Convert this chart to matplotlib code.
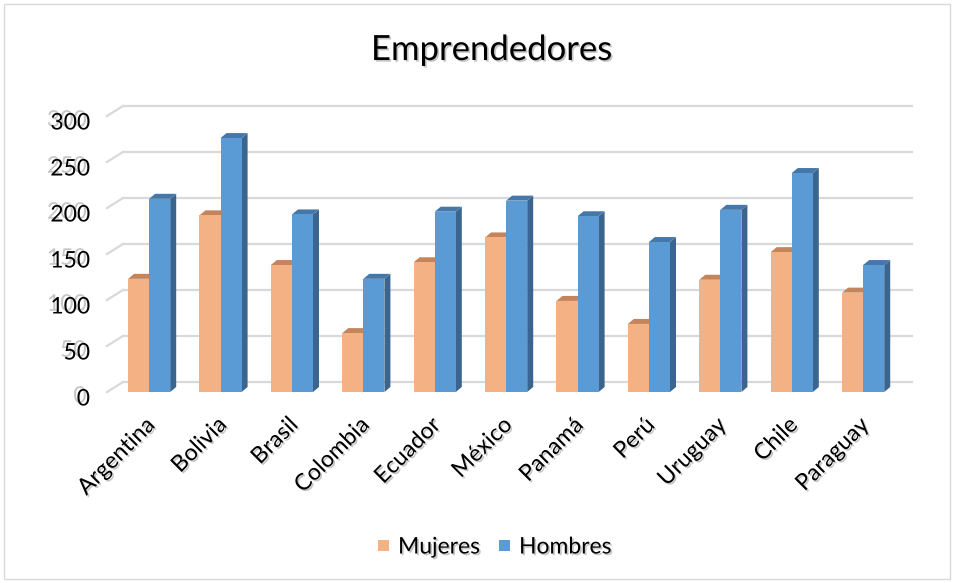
import matplotlib
matplotlib.use("Agg")
import matplotlib.pyplot as plt
import matplotlib.patheffects as pe
from matplotlib.patches import Polygon, Rectangle
import matplotlib.transforms as mtransforms
import numpy as np

paises = ["Argentina", "Bolivia", "Brasil", "Colombia", "Ecuador", "México",
          "Panamá", "Perú", "Uruguay", "Chile", "Paraguay"]
mujeres = [123, 192, 138, 64, 141, 168, 99, 74, 122, 152, 108]
hombres = [210, 276, 193, 123, 196, 208, 191, 163, 198, 238, 138]
y_ticks = [0, 50, 100, 150, 200, 250, 300]

plt.rcParams['font.family'] = ['Lato', 'DejaVu Sans']

c_muj = "#F4B183"
c_muj_top = "#C4845C"
c_hom = "#5B9BD5"
c_hom_top = "#4577A8"
c_hom_side = "#3B658E"
c_grid = "#D9D9D9"

W, H = 962, 583
fig = plt.figure(figsize=(W / 100, H / 100), dpi=100)
ax = fig.add_axes([107 / W, 1 - 392 / H, (896 - 107) / W, (392 - 116) / H])
ax.set_xlim(-0.59, 10.46)
ax.set_ylim(0, 300)
ax.axis("off")

shadow = [pe.withSimplePatchShadow(offset=(1.2, -1.2), shadow_rgbFace="#808080", alpha=0.45)]
ghost = [pe.withSimplePatchShadow(offset=(-2.5, 2), shadow_rgbFace="#A0A0A0", alpha=0.6)]

# back wall gridlines, shifted up-right to fake the 3d depth
back = ax.transData + mtransforms.ScaledTranslation(16 / 100, 10 / 100, fig.dpi_scale_trans)
for v in y_ticks:
    ax.plot([-0.59, 10.46], [v, v], color=c_grid, lw=1.6, transform=back, zorder=0, clip_on=False)
    # little diagonal at the left side of each gridline
    p0 = ax.transData.transform((-0.59, v))
    p1 = back.transform((-0.59, v))
    ax.plot([p0[0], p1[0]], [p0[1], p1[1]], color=c_grid, lw=1.6,
            transform=None, zorder=0, clip_on=False)

bw = 0.295
dx = 6 / 71.4
dy = 5 / 0.92
x = np.arange(len(paises))

def bar3d(x0, v, face, top, side):
    x1 = x0 + bw
    ax.add_patch(Rectangle((x0, 0), bw, v, facecolor=face, edgecolor="none", zorder=2))
    ax.add_patch(Polygon([(x1, 0), (x1 + dx, dy), (x1 + dx, v + dy), (x1, v)],
                         closed=True, facecolor=side, edgecolor="none", zorder=1))
    ax.add_patch(Polygon([(x0, v), (x0 + dx, v + dy), (x1 + dx, v + dy), (x1, v)],
                         closed=True, facecolor=top, edgecolor="none", zorder=1))

for i in range(len(paises)):
    bar3d(x[i] - bw, mujeres[i], c_muj, c_muj_top, c_muj_top)
    bar3d(x[i], hombres[i], c_hom, c_hom_top, c_hom_side)

# y tick labels, a bit below the gridline like in excel's 3d view
lab_tr = ax.transData + mtransforms.ScaledTranslation(0, -7 / 100, fig.dpi_scale_trans)
for v in y_ticks:
    ax.text(-0.83, v, str(v), ha="right", va="center", fontsize=16.5,
            color="black", transform=lab_tr, path_effects=ghost)

# category labels
for i, p in enumerate(paises):
    ax.text(x[i] - 0.07, -24, p, ha="right", va="top", rotation=45,
            rotation_mode="anchor", fontsize=16.5, path_effects=shadow)

fig.text(492 / W, 1 - 50 / H, "Emprendedores", ha="center", va="center",
         fontsize=25, path_effects=shadow)

# legend
lx = [378 / W, 499 / W]
labels = ["Mujeres", "Hombres"]
cols = [c_muj, c_hom]
for xx, lab, col in zip(lx, labels, cols):
    fig.patches.append(Rectangle((xx, 1 - 551 / H), 11 / W, 11 / H, facecolor=col,
                                 edgecolor="none", transform=fig.transFigure))
    fig.text(xx + 20 / W, 1 - 547 / H, lab, ha="left", va="center", fontsize=16.5,
             path_effects=shadow)

# chart border
fig.patches.append(Rectangle((4 / W, 4 / H), 946 / W, 575 / H, fill=False,
                             edgecolor="#D9D9D9", lw=1, transform=fig.transFigure))

fig.savefig("out.png", dpi=100)
